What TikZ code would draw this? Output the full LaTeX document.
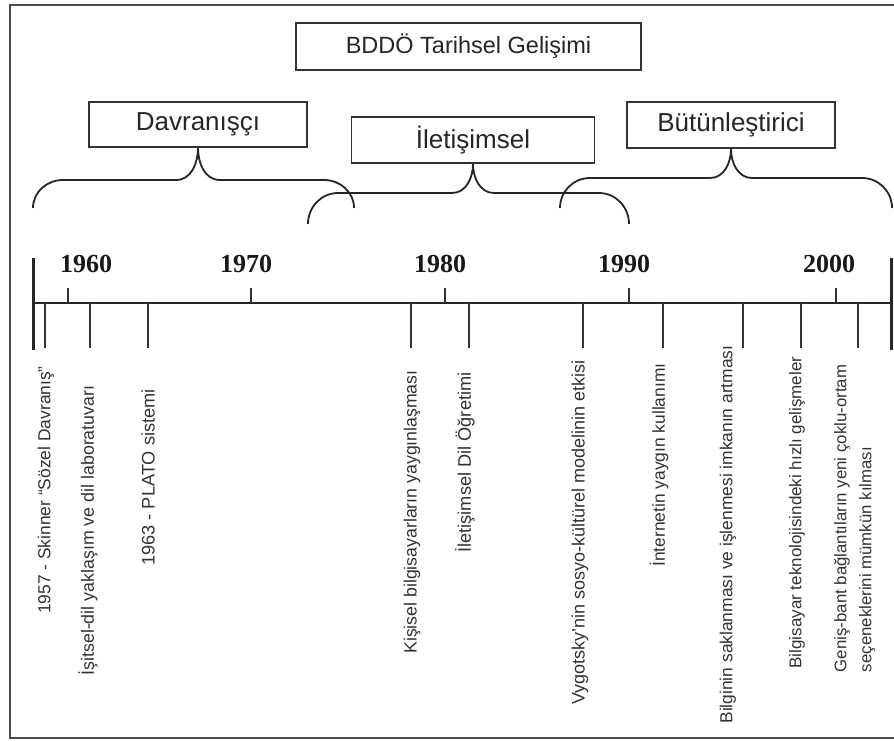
\documentclass[tikz,border=0pt]{standalone}
\usepackage{fontspec}
\setmainfont{Liberation Sans}
\newfontfamily\yearfont{Liberation Serif}
\begin{document}
\begin{tikzpicture}[x=1pt,y=-1pt,
  frame/.style={draw=black!70, line width=1.8pt},
  box/.style={draw=black!80, line width=1.8pt, inner sep=0pt, text=black!85,
    font=\fontsize{26}{30}\selectfont},
  bracestyle/.style={draw=black!85, line width=1.8pt},
  axis/.style={draw=black!85, line width=1.8pt},
  endbar/.style={draw=black!85, line width=3pt},
  tick/.style={draw=black!80, line width=1.4pt},
  year/.style={inner sep=0pt, text=black!90, font=\yearfont\bfseries\fontsize{26}{30}\selectfont},
  lab/.style={rotate=90, inner sep=0pt, text=black!80},
  fs/.style={font=\fontsize{#1}{25}\selectfont}]
\useasboundingbox (0,0) rectangle (894,740);
\fill[white] (0,0) rectangle (894,740);
% frame (right side cut off)
\draw[frame] (896,5) -- (10,5) -- (10,738) -- (896,738);

% boxes
\node[box, font=\fontsize{23.5}{28}\selectfont, minimum width=345pt, minimum height=47pt] (title) at (468.5,46.5) {BDDÖ Tarihsel Gelişimi};
\node[box, minimum width=218pt, minimum height=45pt] (dav) at (198,124.5) {Davranışçı};
\node[box, minimum width=243pt, minimum height=46pt] (ilet) at (473,140) {İletişimsel};
\node[box, minimum width=208pt, minimum height=46pt] (but) at (731,125) {Bütünleştirici};

% braces
\draw[bracestyle] (33,208) to[out=90,in=180] (63,180) -- (176,180) to[out=0,in=-90] (dav.south)
  to[out=-90,in=180] (220,180) -- (324,180) to[out=0,in=90] (354,208);
\draw[bracestyle] (308,224) to[out=90,in=180] (338,193) -- (452,193) to[out=0,in=-90] (ilet.south)
  to[out=-90,in=180] (494,193) -- (599,193) to[out=0,in=90] (629,224);
\draw[bracestyle] (560,208) to[out=90,in=180] (590,178) -- (710,178) to[out=0,in=-90] (but.south)
  to[out=-90,in=180] (752,178) -- (862,178) to[out=0,in=90] (892,208);

% timeline
\coordinate (axL) at (33,303);
\coordinate (axR) at (891,303);
\draw[axis] (axL) -- (axR);
\draw[endbar] (33,258) -- (33,350);
\draw[endbar] (891,258) -- (891,350);

% year ticks and labels
\foreach \x/\yr/\lx in {68/1960/86, 251/1970/246, 445/1980/440, 629/1990/624, 836/2000/829}{
  \draw[tick] (\x,288) -- (\x,303);
  \node[year] (y\yr) at (\lx,264) {\yr};
}

% event ticks
\foreach \x in {45,90,148,411,469,583,663,743,801,858}{
  \draw[tick] (\x,303) -- (\x,348);
}

% event labels
\node[lab, fs=17.4] (l1) at (46,490) {1957 - Skinner “Sözel Davranış”};
\node[lab, fs=17.8] (l2) at (88,530.5) {İşitsel-dil yaklaşım ve dil laboratuvarı};
\node[lab, fs=18.2] (l3) at (148,477.5) {1963 - PLATO sistemi};
\node[lab, fs=17.7] (l4) at (412,512) {Kişisel bilgisayarların yaygınlaşması};
\node[lab, fs=18.2] (l5) at (465,462.5) {İletişimsel Dil Öğretimi};
\node[lab, fs=18] (l6) at (580,532.5) {Vygotsky’nin sosyo-kültürel modelinin etkisi};
\node[lab, fs=17.4] (l7) at (659,465) {İnternetin yaygın kullanımı};
\node[lab, fs=17.4] (l8) at (728,534.5) {Bilginin saklanması ve işlenmesi imkanın artması};
\node[lab, fs=17] (l9) at (797,512.5) {Bilgisayar teknolojisindeki hızlı gelişmeler};
\node[lab, fs=16.8, align=left] (l10) at (854.5,518.5) {Geniş-bant bağlantıların yeni çoklu-ortam\\seçeneklerini mümkün kılması};
\end{tikzpicture}
\end{document}
